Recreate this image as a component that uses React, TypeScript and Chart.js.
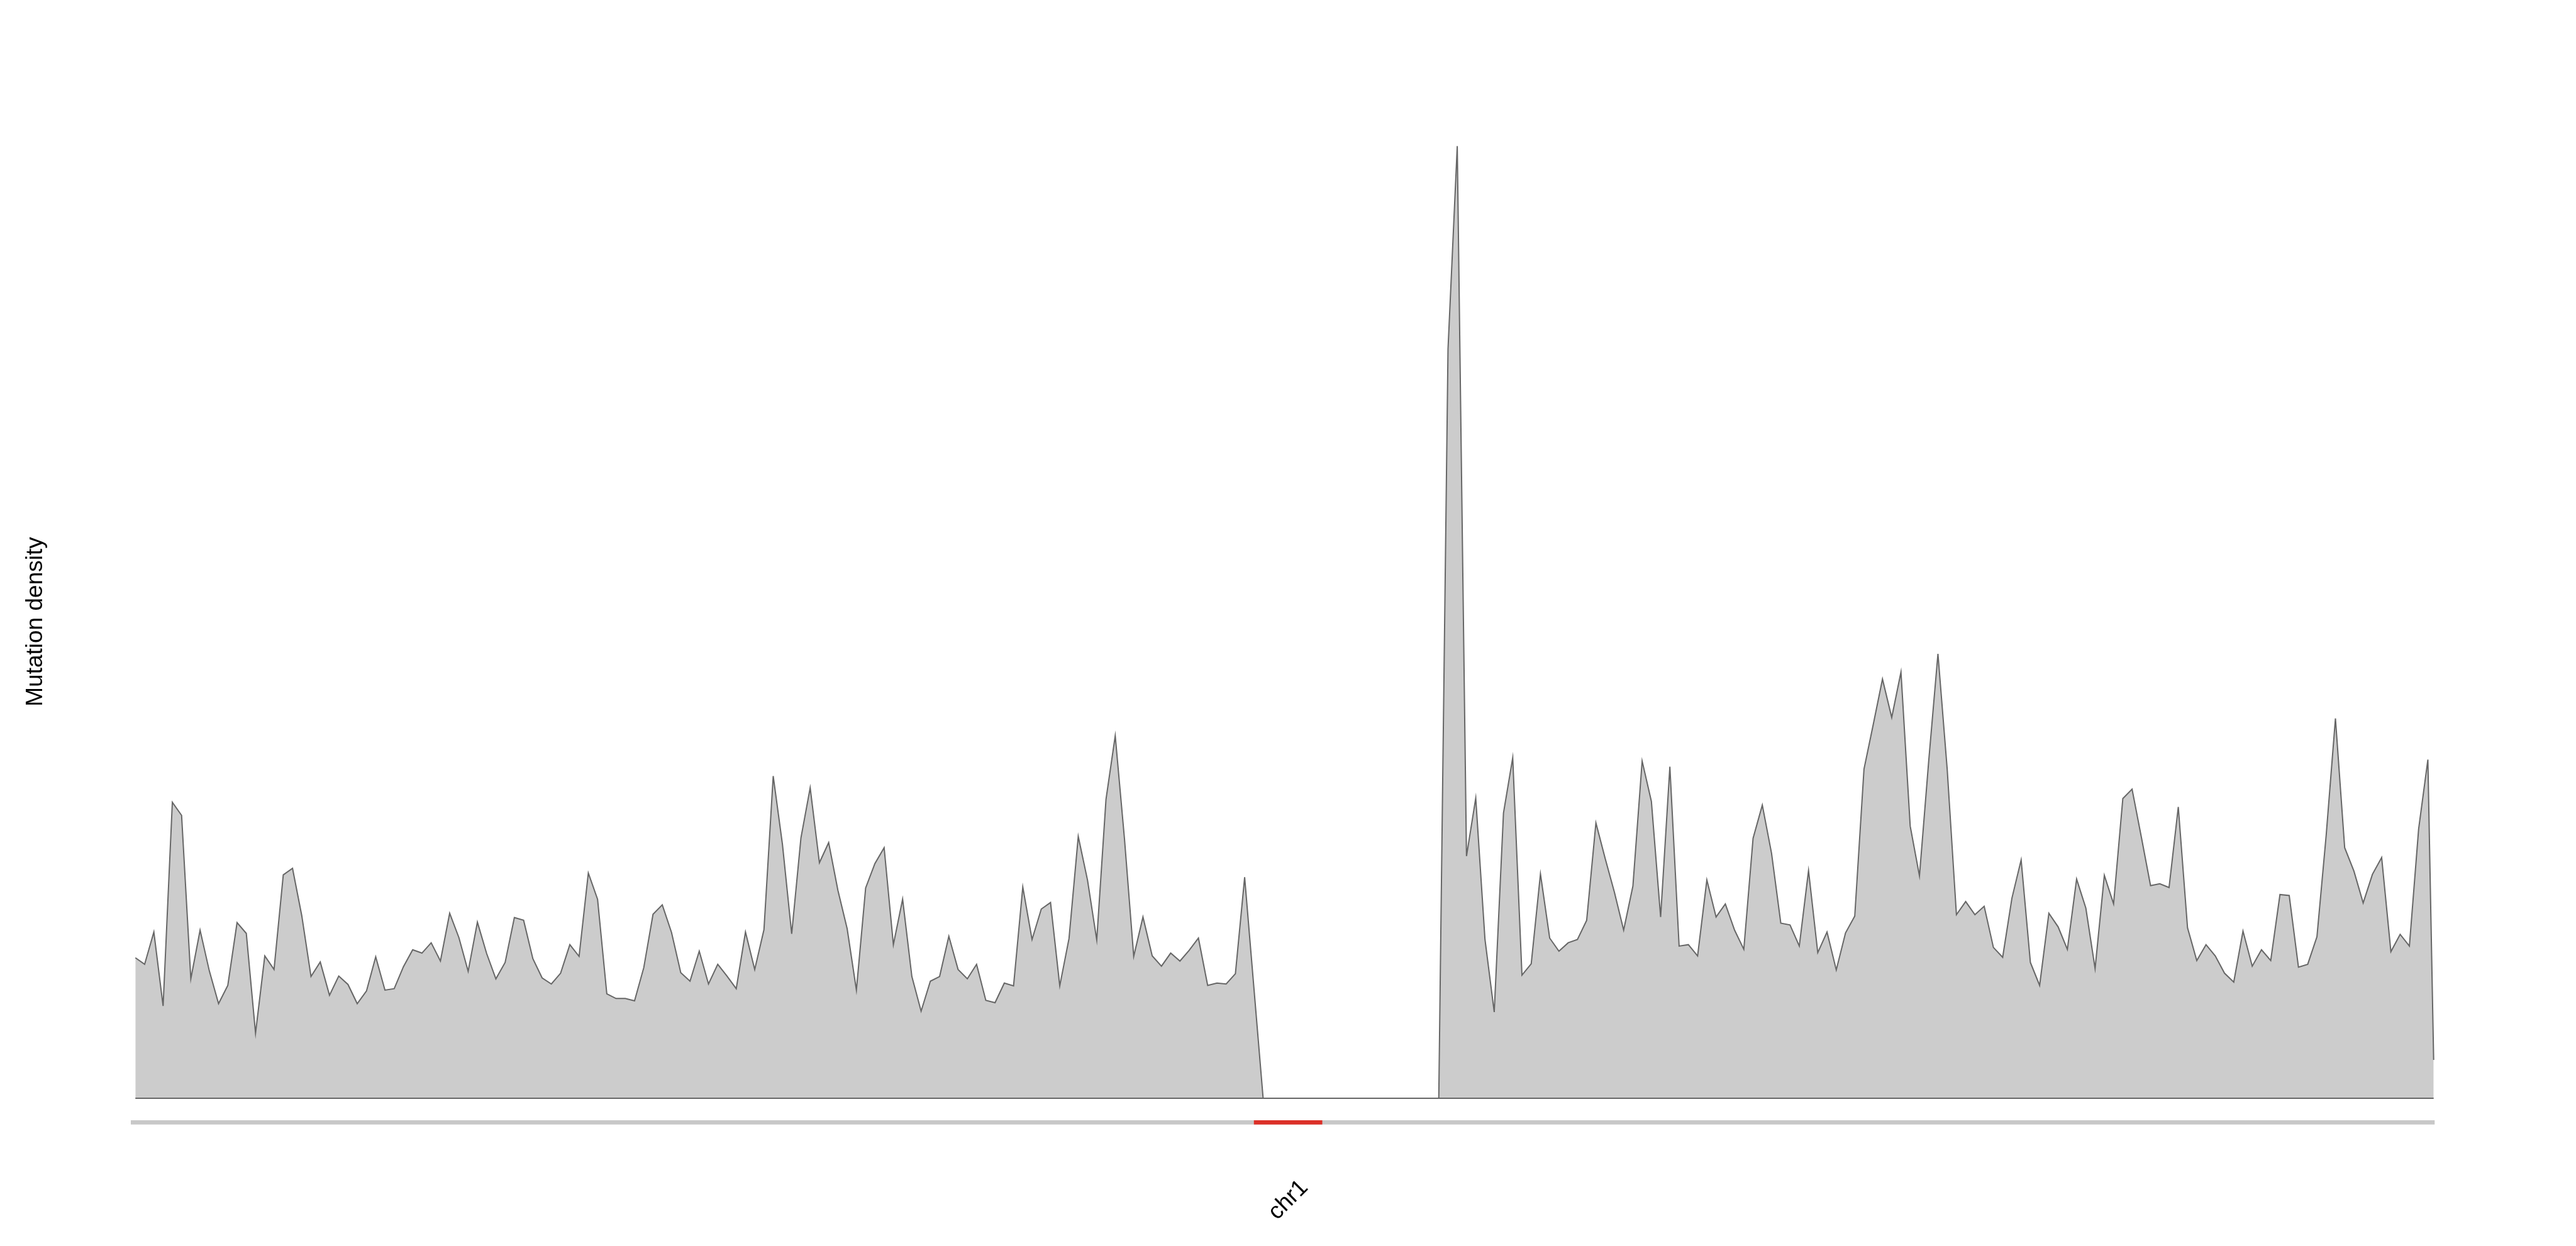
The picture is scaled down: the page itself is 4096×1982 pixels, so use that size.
import { useEffect, useRef } from "react";
import { Chart, registerables } from "chart.js";

Chart.register(...registerables);

// ---- data ----
const CHROM_NAME = "chr1";
const CHROM_LENGTH_MB = 249.25;
const CENTROMERE_MB = [121.5, 128.9];
const Y_TITLE = "Mutation density";

// mutation density per 1 Mb window (last window is the partial chromosome end)
const DENSITY = [
  3.0, 2.86, 3.55, 1.97, 6.32, 6.04, 2.55, 3.59, 2.72, 2.02,
  2.41, 3.75, 3.52, 1.39, 3.04, 2.75, 4.77, 4.91, 3.9, 2.6,
  2.91, 2.2, 2.61, 2.43, 2.02, 2.29, 3.02, 2.31, 2.34, 2.81,
  3.17, 3.1, 3.32, 2.93, 3.95, 3.43, 2.71, 3.76, 3.09, 2.55,
  2.9, 3.86, 3.8, 2.98, 2.57, 2.44, 2.67, 3.28, 3.03, 4.81,
  4.25, 2.23, 2.13, 2.13, 2.08, 2.79, 3.93, 4.13, 3.54, 2.68,
  2.5, 3.14, 2.44, 2.86, 2.61, 2.34, 3.55, 2.75, 3.6, 6.88,
  5.42, 3.51, 5.56, 6.63, 5.03, 5.46, 4.44, 3.62, 2.31, 4.49,
  5.01, 5.35, 3.28, 4.25, 2.6, 1.86, 2.5, 2.6, 3.46, 2.75,
  2.55, 2.86, 2.09, 2.04, 2.46, 2.4, 4.51, 3.39, 4.04, 4.18,
  2.4, 3.41, 5.59, 4.66, 3.38, 6.38, 7.74, 5.54, 3.03, 3.87,
  3.04, 2.82, 3.1, 2.93, 3.16, 3.42, 2.41, 2.46, 2.44, 2.66,
  4.72, 2.36, 0, 0, 0, 0, 0, 0, 0, 0,
  0, 0, 0, 0, 0, 0, 0, 0, 0, 0,
  0, 0, 16.0, 20.33, 5.17, 6.41, 3.39, 1.84, 6.09, 7.27,
  2.63, 2.87, 4.79, 3.42, 3.14, 3.32, 3.39, 3.8, 5.88, 5.12,
  4.4, 3.59, 4.53, 7.2, 6.34, 3.87, 7.08, 3.25, 3.28, 3.04,
  4.66, 3.87, 4.15, 3.59, 3.18, 5.55, 6.26, 5.23, 3.74, 3.7,
  3.25, 4.86, 3.11, 3.55, 2.74, 3.53, 3.89, 7.03, 7.98, 8.95,
  8.13, 9.1, 5.81, 4.75, 7.2, 9.49, 7.03, 3.92, 4.2, 3.92,
  4.1, 3.22, 3.01, 4.27, 5.09, 2.9, 2.41, 3.95, 3.66, 3.18,
  4.68, 4.06, 2.77, 4.76, 4.15, 6.4, 6.6, 5.58, 4.54, 4.58,
  4.5, 6.22, 3.64, 2.94, 3.28, 3.04, 2.67, 2.48, 3.57, 2.82,
  3.17, 2.94, 4.35, 4.33, 2.8, 2.86, 3.45, 5.62, 8.11, 5.35,
  4.85, 4.17, 4.78, 5.14, 3.13, 3.5, 3.25, 5.75, 7.23, 0.82,
];

// window centres in Mb (1 Mb windows; the last one is cut by the chromosome end)
const BIN_CENTERS_MB = DENSITY.map((_, i) =>
  i < DENSITY.length - 1 ? i + 0.5 : (i + CHROM_LENGTH_MB) / 2
);

// ---- layout (window px) ----
const W = 4096;
const H = 1982;
const Y_MIN = -1;
const Y_MAX = 22;
const IDEO_Y = -0.515;

export default function App() {
  const ref = useRef<HTMLCanvasElement | null>(null);

  useEffect(() => {
    document.body.style.margin = "0";
    document.body.style.overflow = "hidden";
    const canvas = ref.current;
    if (!canvas) return;

    const labelsPlugin = {
      id: "labels",
      afterDraw(chart: any) {
        const ctx = chart.ctx;
        const xs = chart.scales.x;
        ctx.save();
        ctx.fillStyle = "#000000";
        ctx.font = '37px "Liberation Sans", Arial, sans-serif';
        ctx.textAlign = "center";
        ctx.textBaseline = "middle";
        // y axis title
        ctx.save();
        ctx.translate(57, 989);
        ctx.rotate(-Math.PI / 2);
        ctx.fillText(Y_TITLE, 0, 0);
        ctx.restore();
        // chromosome label
        ctx.save();
        ctx.translate(xs.getPixelForValue(CHROM_LENGTH_MB / 2) + 9, 1909);
        ctx.rotate(-Math.PI / 4);
        ctx.fillText(CHROM_NAME, 0, 0);
        ctx.restore();
        ctx.restore();
      },
    };

    const points = DENSITY.map((v, i) => ({ x: BIN_CENTERS_MB[i], y: v }));
    const first = BIN_CENTERS_MB[0];
    const last = BIN_CENTERS_MB[BIN_CENTERS_MB.length - 1];

    const chart = new Chart(canvas, {
      type: "line",
      data: {
        datasets: [
          {
            label: "centromere",
            data: [
              { x: CENTROMERE_MB[0], y: IDEO_Y },
              { x: CENTROMERE_MB[1], y: IDEO_Y },
            ],
            borderColor: "#dc3028",
            borderWidth: 6.7,
            borderCapStyle: "butt",
            pointRadius: 0,
            fill: false,
            order: 0,
          },
          {
            label: "baseline",
            data: [
              { x: first, y: 0 },
              { x: last, y: 0 },
            ],
            borderColor: "#666666",
            borderWidth: 2.2,
            pointRadius: 0,
            fill: false,
            order: 1,
          },
          {
            label: "density",
            data: points,
            borderColor: "#666666",
            borderWidth: 2,
            backgroundColor: "#cccccc",
            pointRadius: 0,
            tension: 0,
            fill: "origin",
            borderJoinStyle: "miter",
            order: 2,
          },
          {
            label: "ideogram",
            data: [
              { x: 0, y: IDEO_Y },
              { x: CHROM_LENGTH_MB, y: IDEO_Y },
            ],
            borderColor: "#c8c8c8",
            borderWidth: 6.7,
            borderCapStyle: "butt",
            pointRadius: 0,
            fill: false,
            order: 3,
          },
        ],
      },
      options: {
        animation: false,
        responsive: false,
        maintainAspectRatio: false,
        devicePixelRatio: 1,
        layout: { padding: { left: 207.9, right: 224.5, top: 108, bottom: 160.5 } },
        scales: {
          x: { type: "linear", min: 0, max: CHROM_LENGTH_MB, display: false },
          y: { type: "linear", min: Y_MIN, max: Y_MAX, display: false },
        },
        plugins: {
          legend: { display: false },
          tooltip: { enabled: false },
        },
      },
      plugins: [labelsPlugin],
    } as any);

    return () => chart.destroy();
  }, []);

  return (
    <div style={{ width: W, height: H, background: "#ffffff" }}>
      <canvas ref={ref} width={W} height={H} style={{ display: "block" }} />
    </div>
  );
}
